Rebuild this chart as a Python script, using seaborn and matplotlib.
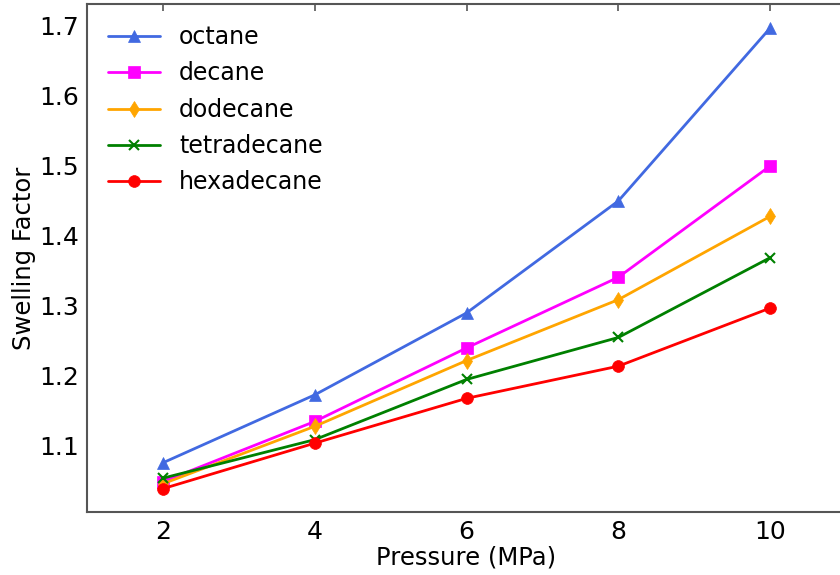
import matplotlib
matplotlib.use("Agg")
import matplotlib.pyplot as plt
import seaborn as sns
import pandas as pd

# Swelling factor of alkanes versus pressure
pressure = [2, 4, 6, 8, 10]
octane = [1.076, 1.173, 1.290, 1.450, 1.697]
decane = [1.049, 1.135, 1.240, 1.341, 1.500]
dodecane = [1.046, 1.128, 1.222, 1.309, 1.428]
tetradecane = [1.054, 1.109, 1.195, 1.255, 1.369]
hexadecane = [1.039, 1.104, 1.168, 1.214, 1.297]

names = ["octane", "decane", "dodecane", "tetradecane", "hexadecane"]
series = [octane, decane, dodecane, tetradecane, hexadecane]
colors = ["#4169E1", "#FF00FF", "#FFA500", "#008000", "#FF0000"]
markers = ["^", "s", "d", "x", "o"]

df = pd.DataFrame({
    "Pressure": pressure * len(names),
    "Swelling": [v for s in series for v in s],
    "Alkane": [n for n in names for _ in pressure],
})

sns.set_style("white")
plt.rcParams["font.family"] = ["DejaVu Sans"]
plt.rcParams["text.color"] = "black"
plt.rcParams["axes.labelcolor"] = "black"

fig = plt.figure(figsize=(8.4, 5.75), dpi=100)
ax = fig.add_axes([0.1036, 0.1096, 0.9036, 0.8835])

for name, color, marker in zip(names, colors, markers):
    sub = df[df["Alkane"] == name]
    sns.lineplot(data=sub, x="Pressure", y="Swelling", ax=ax, color=color,
                 marker=marker, markersize=8.5 if marker != "x" else 7,
                 markeredgecolor=color,
                 markeredgewidth=1.5 if marker == "x" else 0.5,
                 linewidth=2, label=name)

ax.set_xlim(1, 11)
ax.set_ylim(1.0057, 1.7314)
ax.set_xticks([2, 4, 6, 8, 10])
ax.set_yticks([1.1, 1.2, 1.3, 1.4, 1.5, 1.6, 1.7])
ax.set_xlabel("Pressure (MPa)", fontsize=17.5, labelpad=1)
ax.set_ylabel("Swelling Factor", fontsize=17.5, labelpad=2)

ax.tick_params(direction="in", top=True, right=False, length=5, width=1.2,
               color="#555555", labelcolor="black", labelsize=18, pad=6)
for sp in ax.spines.values():
    sp.set_color("#555555")
    sp.set_linewidth(1.5)

ax.legend(loc="upper left", frameon=False, fontsize=17,
          handlelength=2.2, borderaxespad=0.5, labelspacing=0.52,
          handletextpad=0.8)

fig.savefig("out.png", dpi=100)
